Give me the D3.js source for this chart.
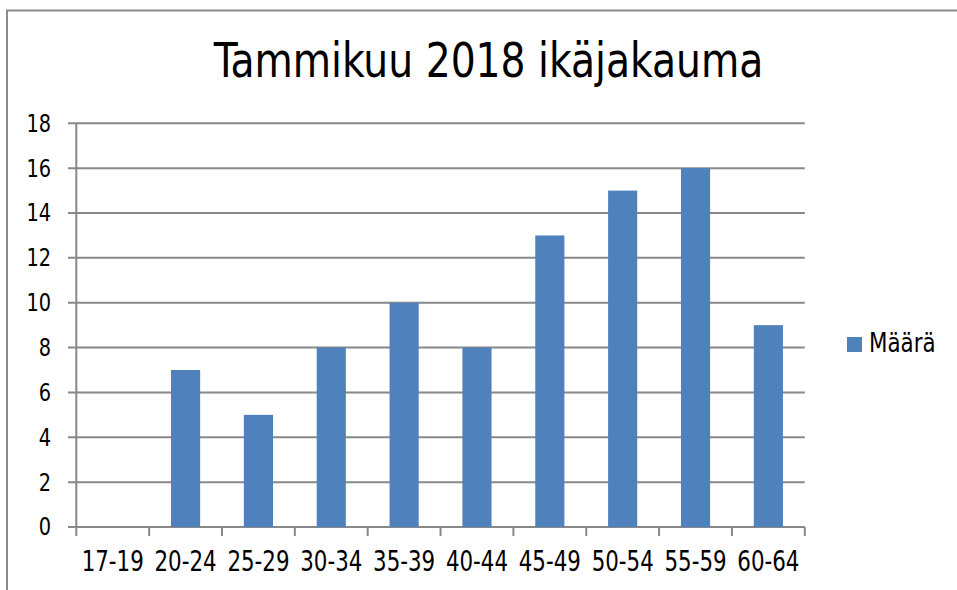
<!DOCTYPE html>
<html><head><meta charset="utf-8">
<script src="https://cdn.jsdelivr.net/npm/d3@7"></script>
<style>body{margin:0;background:#fff}svg{display:block}</style>
</head><body>
<script>
const title = "Tammikuu 2018 ikäjakauma";
const categories = ["17-19","20-24","25-29","30-34","35-39","40-44","45-49","50-54","55-59","60-64"];
const values = [0,7,5,8,10,8,13,15,16,9];
const yTicks = [0,2,4,6,8,10,12,14,16,18];
const seriesName = "Määrä";

const W = 957, H = 590;
const font = "'DejaVu Sans Condensed','DejaVu Sans',sans-serif";
const svg = d3.select("body").append("svg").attr("width", W).attr("height", H);

svg.append("rect").attr("x", 7).attr("y", 10.5).attr("width", 1000).attr("height", 1000)
  .attr("fill", "#fff").attr("stroke", "#8a8a8a").attr("stroke-width", 2);

const x = d3.scaleBand().domain(categories).range([76.3, 804.8]).paddingInner(0.6).paddingOuter(0.3);
const y = d3.scaleLinear().domain([0, 18]).range([527, 123.3]);

function label(sel, px, py, size, sx, anchor) {
  return sel.append("text")
    .attr("transform", `translate(${px},${py}) scale(${sx},1)`)
    .attr("text-anchor", anchor).attr("font-family", font).attr("font-size", size).attr("fill", "#000");
}

const g = svg.append("g");
g.selectAll("line.grid").data(yTicks).join("line")
  .attr("x1", 68).attr("x2", 804.8)
  .attr("y1", d => y(d)).attr("y2", d => y(d))
  .attr("stroke", "#888").attr("stroke-width", 2);

g.selectAll("rect.bar").data(values).join("rect")
  .attr("x", (d, i) => x(categories[i]))
  .attr("width", x.bandwidth())
  .attr("y", d => y(d))
  .attr("height", d => y(0) - y(d))
  .attr("fill", "#4f81bd");

g.append("line").attr("x1", 76.3).attr("x2", 76.3).attr("y1", y(18)).attr("y2", y(0))
  .attr("stroke", "#888").attr("stroke-width", 2);

const bounds = d3.range(categories.length + 1).map(i => 76.3 + i * (804.8 - 76.3) / categories.length);
g.selectAll("line.xt").data(bounds).join("line")
  .attr("x1", d => d).attr("x2", d => d).attr("y1", y(0)).attr("y2", y(0) + 9)
  .attr("stroke", "#888").attr("stroke-width", 2);

yTicks.forEach(t => label(g, 51, y(t) + 8.4, 25, 0.86, "end").text(t));
categories.forEach(c => label(g, x(c) + x.bandwidth() / 2, 571, 29, 0.82, "middle").text(c));

label(svg, 488.5, 76.7, 48, 0.91, "middle").text(title);

svg.append("rect").attr("x", 847).attr("y", 337).attr("width", 15).attr("height", 15).attr("fill", "#4f81bd");
label(svg, 869, 352, 27, 0.88, "start").text(seriesName);
</script>
</body></html>
